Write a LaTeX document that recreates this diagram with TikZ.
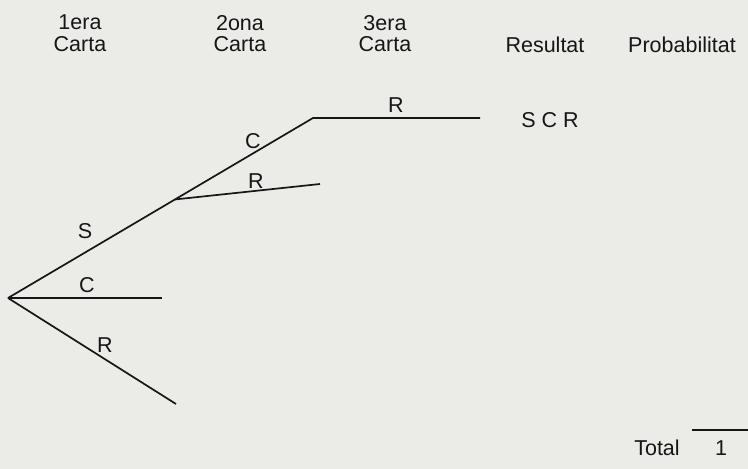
\documentclass[tikz,border=0pt]{standalone}
\usepackage{fontspec}
\setmainfont{Liberation Sans}
\usetikzlibrary{calc}
\definecolor{paper}{HTML}{EBEBE8}
\definecolor{ink}{HTML}{161616}
\begin{document}
\begin{tikzpicture}[x=1pt,y=-1pt,
  branch/.style={draw=ink,line width=1.7pt,line join=miter},
  lbl/.style={text=ink,font=\fontsize{21.5}{22}\selectfont,inner sep=0pt,anchor=base},
  head/.style={text=ink,font=\fontsize{21.5}{21.5}\selectfont,inner sep=0pt,align=center,anchor=north}]
% paper
\fill[paper] (0,0) rectangle (748,469);
\useasboundingbox (0,0) rectangle (748,469);

% column headings
\node[head] (h1) at (80,15) {1era\\Carta};
\node[head] (h2) at (240,15) {2ona\\Carta};
\node[head] (h3) at (385,15) {3era\\Carta};
\node[lbl] (hres) at (545,52) {Resultat};
\node[lbl] (hprob) at (682,52) {Probabilitat};

% tree points
\coordinate (root) at (8,298);
\coordinate (cTop) at (313,118);
\coordinate (cEnd) at (480,118);
\coordinate (jS) at ($(root)!0.5475!(cTop)$);
\coordinate (rEnd) at (320,184);
\coordinate (c1End) at (162,298);
\coordinate (r1End) at (176,404);

% branches
\draw[branch] (root) -- (cTop) -- (cEnd);
\draw[branch] (jS) -- (rEnd);
\draw[branch] (root) -- (c1End);
\draw[branch] (root) -- (r1End);

% branch labels
\node[lbl] (lS) at (85,238) {S};
\node[lbl] (lC1) at (87,292) {C};
\node[lbl] (lR1) at (105,352) {R};
\node[lbl] (lC2) at (253,148) {C};
\node[lbl] (lR2) at (256,188) {R};
\node[lbl] (lR3) at (396,112) {R};

% outcome
\node[lbl] (res) at (550,127) {S C R};

% total row
\coordinate (tA) at (692,430);
\coordinate (tB) at (748,430);
\draw[branch] (tA) -- (tB);
\node[lbl] (tot) at (657,455) {Total};
\node[lbl] (one) at (721,455) {1};
\end{tikzpicture}
\end{document}
